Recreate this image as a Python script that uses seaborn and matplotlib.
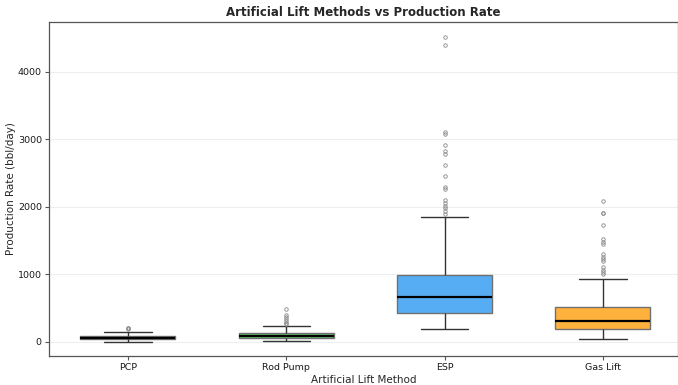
import matplotlib
matplotlib.use("Agg")
import matplotlib.pyplot as plt
import numpy as np
import pandas as pd
import seaborn as sns

# Production rate summary per artificial lift method (bbl/day)
methods = ["PCP", "Rod Pump", "ESP", "Gas Lift"]
whisker_low = [5, 10, 193, 44]
quartile_1 = [38, 52, 425, 197]
medians = [59, 84, 667, 311]
quartile_3 = [85, 128, 997, 518]
whisker_high = [148, 237, 1847, 933]
outliers = [
    [190, 200, 212],
    [262, 281, 311, 341, 375, 400, 489],
    [1891, 1940, 1980, 2015, 2054, 2104, 2271, 2301, 2464, 2627,
     2785, 2834, 2918, 3080, 3110, 4405, 4514],
    [1010, 1032, 1067, 1106, 1200, 1225, 1264, 1304, 1447, 1486,
     1521, 1733, 1906, 1915, 2089],
]
colors = ["#9b59b6", "#66bb6a", "#56adf4", "#ffb13d"]


def sample_from_summary(lo, q1, med, q3, hi, extra):
    """Well sample whose quartiles and whiskers reproduce the summary."""
    n_out = len(extra)
    k = n_out + 2
    return ([lo] + [q1] * (k + n_out) + [med] + [q3] * k + [hi] + list(extra))


rows = []
for i, m in enumerate(methods):
    vals = sample_from_summary(whisker_low[i], quartile_1[i], medians[i],
                               quartile_3[i], whisker_high[i], outliers[i])
    rows += [(m, v) for v in vals]
df = pd.DataFrame(rows, columns=["Artificial Lift Method", "Production Rate (bbl/day)"])

sns.set_theme(style="white")
plt.rcParams["font.family"] = ["DejaVu Sans"]

fig = plt.figure(figsize=(6.78, 3.85), dpi=100)
ax = fig.add_axes([0.072, 0.075, 0.928, 0.868])

sns.boxplot(
    data=df, x="Artificial Lift Method", y="Production Rate (bbl/day)",
    hue="Artificial Lift Method", palette=colors, legend=False,
    order=methods, width=0.6, saturation=1.0, ax=ax,
    boxprops=dict(edgecolor="#707070", linewidth=1.0),
    whiskerprops=dict(color="#333333", linewidth=1.0),
    capprops=dict(color="#333333", linewidth=1.0),
    medianprops=dict(color="black", linewidth=1.6),
    flierprops=dict(marker="o", markersize=2.5, markerfacecolor="none",
                    markeredgecolor="#888888", markeredgewidth=0.6),
)

ax.set_xlim(-0.5, 3.475)
ax.set_ylim(-210, 4740)
ax.set_yticks([0, 1000, 2000, 3000, 4000])
ax.yaxis.grid(True, color="#eeeeee", linewidth=0.8)
ax.set_axisbelow(True)
for s in ax.spines.values():
    s.set_color("#555555")
    s.set_linewidth(0.9)
ax.tick_params(axis="both", which="both", length=3, width=0.8, color="#555555",
               labelsize=6.8, labelcolor="#1a1a1a", pad=2)
ax.tick_params(axis="both", left=True, bottom=True)
ax.set_title("Artificial Lift Methods vs Production Rate", fontsize=8.5,
             fontweight="bold", pad=4)
ax.set_xlabel("Artificial Lift Method", fontsize=7.5, labelpad=2)
ax.set_ylabel("Production Rate (bbl/day)", fontsize=7.5, labelpad=1)

fig.savefig("out.png", dpi=100)
